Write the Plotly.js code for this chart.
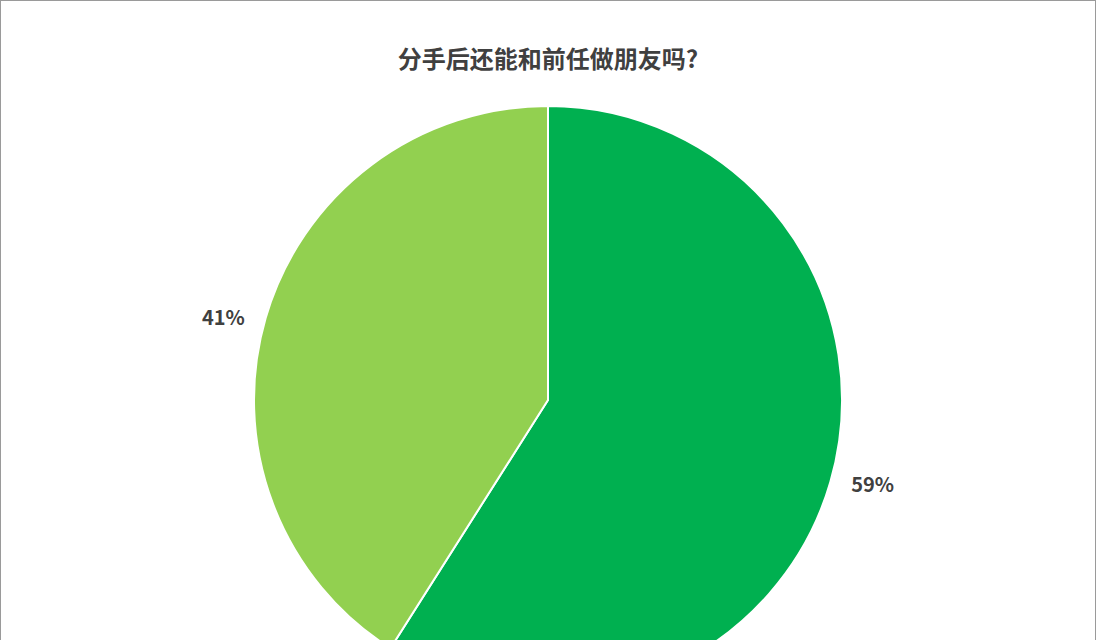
<!DOCTYPE html>
<html>
<head>
<meta charset="utf-8">
<script src="https://cdn.plot.ly/plotly-3.0.1.min.js"></script>
<style>
  html, body { margin: 0; padding: 0; overflow: hidden; background: #fff; }
  #frame { width: 1096px; height: 640px; overflow: hidden; box-sizing: border-box; border: 1px solid #9a9a9a; border-bottom: none; }
  #chart { width: 1094px; height: 693px; }
</style>
</head>
<body>
<div id="frame"><div id="chart"></div></div>
<script>
const title = "分手后还能和前任做朋友吗?";
const answers = ["能", "不能"];
const shares = [59, 41];
const colors = ["#00B050", "#92D050"];
// extra non-breaking space on the inner side pushes labels a bit further out
const labelTemplates = ["\u00a0\u00a0\u00a0%{value}%", "%{value}%\u00a0\u00a0\u00a0"];

Plotly.newPlot("chart", [{
    type: "pie",
    labels: answers,
    values: shares,
    sort: false,
    direction: "clockwise",
    rotation: 0,
    marker: {colors: colors, line: {color: "#ffffff", width: 2}},
    textinfo: "percent",
    textposition: "outside",
    texttemplate: labelTemplates,
    outsidetextfont: {family: "Noto Sans CJK SC, Noto Sans, sans-serif", size: 20, color: "#404040", weight: "bold"},
    hoverinfo: "label+percent",
}], {
    width: 1094,
    height: 693,
    margin: {t: 105, b: 0, l: 0, r: 0},
    showlegend: false,
    paper_bgcolor: "#ffffff",
    title: {
        text: "<b>" + title + "</b>",
        x: 0.5,
        xanchor: "center",
        y: 1 - 59 / 693,
        yref: "container",
        yanchor: "middle",
        font: {family: "Noto Sans CJK SC, sans-serif", size: 24, color: "#404040"},
    },
}, {displayModeBar: false, staticPlot: true});
</script>
</body>
</html>
